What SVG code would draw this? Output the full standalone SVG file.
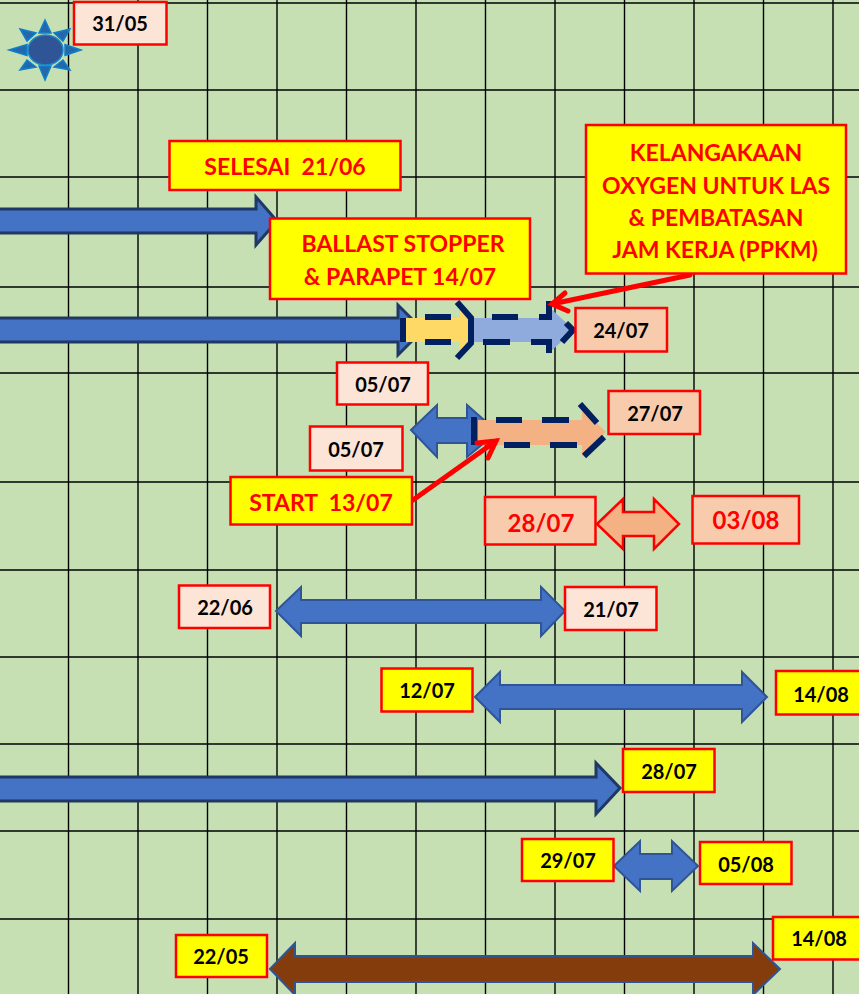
<svg xmlns="http://www.w3.org/2000/svg" width="859" height="994" viewBox="0 0 859 994">
<style>
.g{stroke:#000;stroke-width:1.4;fill:none}
.b{stroke:#f00;stroke-width:2.500}
.y{fill:#ff0}.l{fill:#fce4d6}.o{fill:#f8cbad}
text{font-family:Lato,"Liberation Sans",sans-serif;font-weight:700;text-anchor:middle;white-space:pre}
.k{fill:#000;font-size:20px}
.r{fill:#f00;font-size:23px}
.rr{fill:#f00;font-size:24px}
.a{fill:#4472c4;stroke:#2f5597;stroke-width:2}
.n{fill:#4472c4;stroke:#1f3864;stroke-width:3}
.d{stroke:#002060;stroke-width:6;fill:none}
.p{stroke:#f00;stroke-width:5;fill:none;stroke-linecap:round}
</style>
<rect width="859" height="994" fill="#c6e0b4"/>
<g id="grid">
<path class="g" d="M68.5 0V994M138 0V994M207.500 0V994M277 0V994M346.500 0V994M416 0V994M485.500 0V994M555 0V994M624.500 0V994M694 0V994M763.500 0V994M833 0V994"/>
<path class="g" d="M0 3H859M0 90H859M0 177H859M0 287H859M0 373H859M0 482H859M0 570H859M0 657H859M0 744H859M0 831H859M0 919H859"/>
</g>
<g id="connectors">
<path class="n" d="M-5 209H256V197L277 221L256 245V233H-5Z"/>
<path class="n" d="M-5 318H398V305L413 320V340L398 355V342H-5Z"/>
<path fill="#ffd966" d="M406 318H460V308L474 330L460 352V342H406Z"/>
<path fill="#8faadc" d="M474 318H548V306L574 330L548 354V342H474Z"/>
<path class="d" d="M403 318V342M425 317H451M425 342H451M457 302L471 318V343L457 358M492 317H518M483 342H510M539 317H549V301M531 342H549V353M566 323L573 330L562 342"/>
<path class="a" d="M411 430L437 405V418H467V405L484 420V443L467 457V443H437V457Z"/>
<path fill="#f4b183" d="M478 420H582V408L606 432L582 457V445H478Z"/>
<path class="d" d="M474 417V445M496 420H522M542 420H569M580 404L597 423M504 445H530M550 445H577M584 456L604 437"/>
<path d="M597 524L623 499V512H654V499L679 524L654 549V536H623V549Z" fill="#f4b183" stroke="#f00" stroke-width="2.500"/>
<path class="a" d="M276 611L301 587V600H541V587L565 611L541 636V623H301V636Z"/>
<path class="a" d="M475 697L500 672V685H742V672L767 697L742 722V709H500V722Z"/>
<path class="n" d="M-5 777H596V763L620 788L596 814V801H-5Z"/>
<path class="a" d="M614 866L640 841V854H672V841L698 866L672 891V879H640V891Z"/>
<path fill="#843c0c" stroke="#2f5597" stroke-width="2" d="M270 969L295 943V956H753V943L780 969L753 995V982H295V995Z"/>
<path class="p" d="M413 500L496 441M477 443L496 441L488 458"/>
<path class="p" d="M690 275L552 304M565 293L552 304L568 311"/>
</g>
<g id="sun">
<path fill="#2367ad" stroke="#0f80c8" stroke-width="1.500" d="M9 50L27 44.500V55.500ZM81 50L65 44.500V55.500ZM45 20L39 33H51ZM45 80L39 66H51ZM20 29L36 33L27 41ZM70 29L54 33L63 41ZM20 70L27 60L36 67ZM70 70L63 60L54 67Z"/>
<ellipse cx="45.500" cy="50" rx="17.500" ry="15" fill="#2f5597" stroke="#1e88c7" stroke-width="1.500"/>
</g>
<g id="n3105"><rect class="b l" x="74" y="2" width="92.500" height="42.500"/><text class="k" x="120" y="31">31/05</text></g>
<g id="selesai"><rect class="b y" x="169.500" y="141" width="231" height="49"/><text class="r" x="285" y="175">SELESAI  21/06</text></g>
<g id="ballast"><rect class="b y" x="270" y="218.500" width="260" height="80.500"/><text class="r" x="403" y="252">BALLAST STOPPER</text><text class="r" x="400" y="285">&amp; PARAPET 14/07</text></g>
<g id="oxygen"><rect class="b y" x="586" y="125" width="260" height="148.500"/><text class="r" x="716" y="161">KELANGAKAAN</text><text class="r" x="716" y="194">OXYGEN UNTUK LAS</text><text class="r" x="716" y="226">&amp; PEMBATASAN</text><text class="r" x="715" y="258">JAM KERJA (PPKM)</text></g>
<g id="n2407"><rect class="b o" x="575.500" y="308" width="91.500" height="43.500"/><text class="k" x="621" y="338">24/07</text></g>
<g id="n0507a"><rect class="b l" x="337" y="362.500" width="91" height="42"/><text class="k" x="383" y="392">05/07</text></g>
<g id="n2707"><rect class="b o" x="608.500" y="391" width="91.500" height="43"/><text class="k" x="655" y="421">27/07</text></g>
<g id="n0507b"><rect class="b l" x="310" y="426.500" width="92.500" height="44"/><text class="k" x="356" y="457">05/07</text></g>
<g id="start"><rect class="b y" x="230.500" y="477" width="181.500" height="47.500"/><text class="r" x="321" y="511">START  13/07</text></g>
<g id="n2807r"><rect class="b o" x="485" y="497" width="110.500" height="47.500"/><text class="rr" x="541" y="532">28/07</text></g>
<g id="n0308"><rect class="b o" x="692.500" y="496" width="106.500" height="47.500"/><text class="rr" x="746" y="529">03/08</text></g>
<g id="n2206"><rect class="b l" x="179" y="585.500" width="91" height="42.500"/><text class="k" x="225" y="615">22/06</text></g>
<g id="n2107"><rect class="b l" x="565" y="587" width="91.500" height="43"/><text class="k" x="611" y="617">21/07</text></g>
<g id="n1207"><rect class="b y" x="381.500" y="668.500" width="91" height="43"/><text class="k" x="427" y="698">12/07</text></g>
<g id="n1408a"><rect class="b y" x="776" y="671" width="90" height="43.500"/><text class="k" x="821" y="702">14/08</text></g>
<g id="n2807"><rect class="b y" x="623" y="749" width="91.500" height="43"/><text class="k" x="669" y="779">28/07</text></g>
<g id="n2907"><rect class="b y" x="522" y="839" width="91.500" height="42"/><text class="k" x="568" y="868">29/07</text></g>
<g id="n0508"><rect class="b y" x="700" y="842" width="91.500" height="42"/><text class="k" x="746" y="872">05/08</text></g>
<g id="n2205"><rect class="b y" x="176" y="935" width="91" height="42"/><text class="k" x="221" y="964">22/05</text></g>
<g id="n1408b"><rect class="b y" x="773" y="917" width="91" height="42.500"/><text class="k" x="819" y="946">14/08</text></g>
</svg>
